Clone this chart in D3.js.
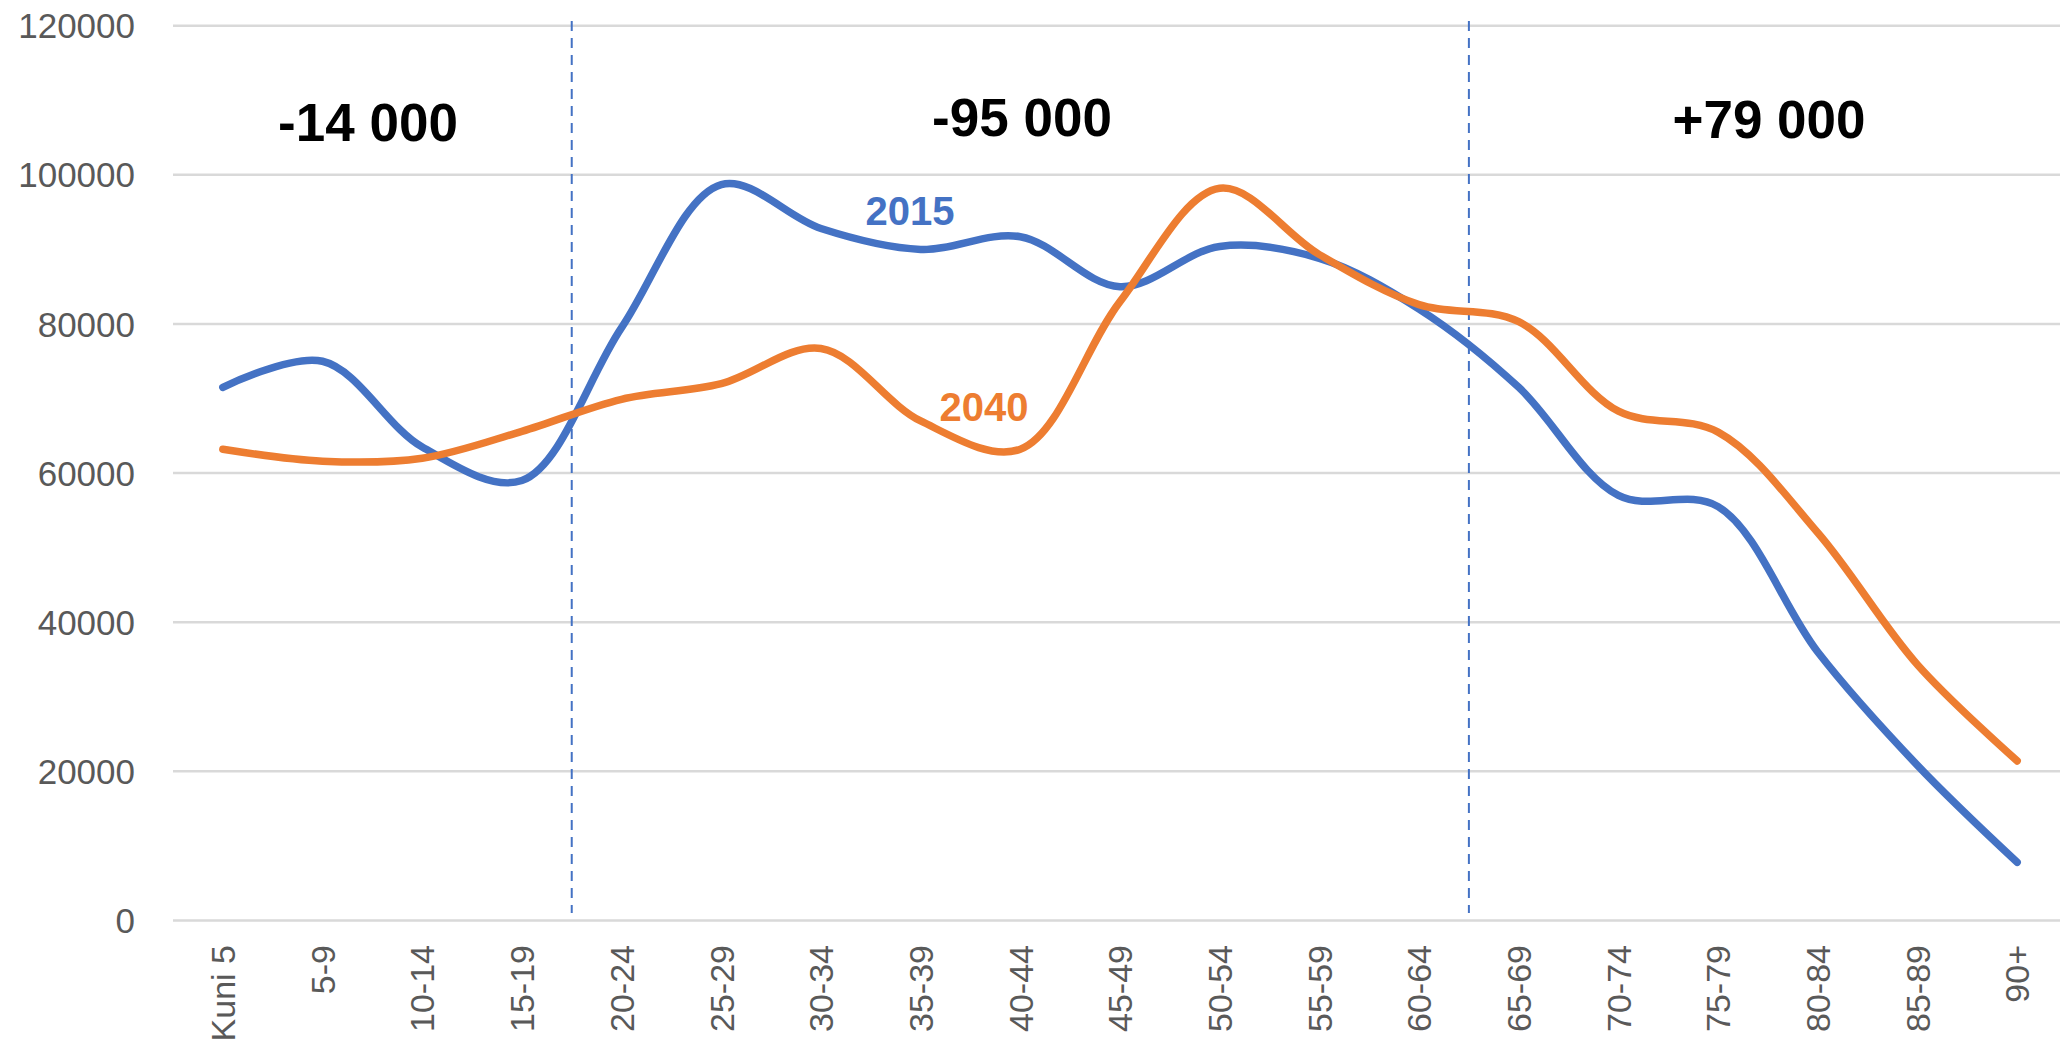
<!DOCTYPE html>
<html>
<head>
<meta charset="utf-8">
<script src="https://cdn.jsdelivr.net/npm/d3@7"></script>
<style>
	body { margin: 0; background: #ffffff; }
	.axis_label { font-family: "Liberation Sans", Arial, sans-serif; fill: #595959; }
	.note { font-family: "Liberation Sans", Arial, sans-serif; font-weight: bold; }
</style>
</head>
<body>
<div id="chart"></div>
<script>
// age groups on the x axis
var categories = ["Kuni 5", "5-9", "10-14", "15-19", "20-24", "25-29", "30-34", "35-39", "40-44",
	"45-49", "50-54", "55-59", "60-64", "65-69", "70-74", "75-79", "80-84", "85-89", "90+"];

// population per age group
var values_2015 = [71500, 75000, 63500, 59000, 79500, 98700, 92800, 90000, 91700,
	85000, 90400, 88800, 82000, 71500, 57000, 55500, 36000, 20800, 7800];
var values_2040 = [63200, 61600, 62000, 65600, 69900, 72000, 76700, 67000, 63200,
	83000, 98200, 89300, 82600, 80300, 68300, 65500, 52000, 34300, 21400];

var y_ticks = [0, 20000, 40000, 60000, 80000, 100000, 120000];

// the three blocks split by the dashed lines
var block_labels = ["-14 000", "-95 000", "+79 000"];
var block_edges = [0, 4, 13, 19]; // category index where each block starts

var series_names = ["2015", "2040"];

var LineChart = {};

LineChart.graphRender = function(div_id) {
	var width = 2060;
	var height = 1045;
	var colors = ["#4472C4", "#ED7D31"];

	var svg = d3.select(div_id).append("svg")
		.attr("width", width)
		.attr("height", height);

	var x = d3.scaleBand()
		.domain(categories)
		.range([173, 2067]);
	var y = d3.scaleLinear()
		.domain([0, 120000])
		.range([920.5, 25.7]);

	function xc(d) { return x(d) + x.bandwidth() / 2; }

	//horizontal grid lines
	svg.append("g").selectAll("line.grid")
		.data(y_ticks)
		.enter()
		.append("line")
		.attr("class", "grid")
		.attr("x1", 173)
		.attr("x2", width)
		.attr("y1", function(d) { return y(d); })
		.attr("y2", function(d) { return y(d); })
		.attr("stroke", "#d9d9d9")
		.attr("stroke-width", 2.5);

	//y axis labels
	svg.append("g").selectAll("text.ylab")
		.data(y_ticks)
		.enter()
		.append("text")
		.attr("class", "axis_label")
		.attr("x", 135)
		.attr("y", function(d) { return y(d); })
		.attr("dy", "0.36em")
		.attr("text-anchor", "end")
		.attr("font-size", "35px")
		.text(function(d) { return d; });

	//x axis labels, turned upright
	svg.append("g").selectAll("text.xlab")
		.data(categories)
		.enter()
		.append("text")
		.attr("class", "axis_label")
		.attr("transform", function(d) {
			return "translate(" + xc(d) + ",945) rotate(-90)";
		})
		.attr("dy", "0.36em")
		.attr("text-anchor", "end")
		.attr("font-size", "34px")
		.text(function(d) { return d; });

	//dashed separators between the blocks
	svg.append("g").selectAll("line.sep")
		.data(block_edges.slice(1, 3))
		.enter()
		.append("line")
		.attr("x1", function(d) { return x(categories[d]); })
		.attr("x2", function(d) { return x(categories[d]); })
		.attr("y1", 21)
		.attr("y2", 913)
		.attr("stroke", "#4472C4")
		.attr("stroke-width", 2)
		.attr("stroke-dasharray", "10,7");

	//block totals
	var block_y = [141, 136, 138];
	svg.append("g").selectAll("text.note")
		.data(block_labels)
		.enter()
		.append("text")
		.attr("class", "note")
		.attr("x", function(d, i) {
			if(i == 0) return 368;
			if(i == 1) return 1022;
			return 1769;
		})
		.attr("y", function(d, i) { return block_y[i]; })
		.attr("text-anchor", "middle")
		.attr("font-size", "53px")
		.attr("fill", "#000000")
		.text(function(d) { return d; });

	//the two smoothed lines
	var line = d3.line()
		.x(function(d, i) { return xc(categories[i]); })
		.y(function(d) { return y(d); })
		.curve(d3.curveCatmullRom.alpha(0.5));

	[values_2015, values_2040].forEach(function(vals, k) {
		svg.append("path")
			.datum(vals)
			.attr("d", line)
			.attr("fill", "none")
			.attr("stroke", colors[k])
			.attr("stroke-width", 7.5)
			.attr("stroke-linecap", "round")
			.attr("stroke-linejoin", "round");
	});

	//series names next to the lines
	var name_pos = [[910, 225], [984, 421]];
	svg.append("g").selectAll("text.series")
		.data(series_names)
		.enter()
		.append("text")
		.attr("class", "note")
		.attr("x", function(d, i) { return name_pos[i][0]; })
		.attr("y", function(d, i) { return name_pos[i][1]; })
		.attr("text-anchor", "middle")
		.attr("font-size", "40px")
		.attr("fill", function(d, i) { return colors[i]; })
		.text(function(d) { return d; });
};

LineChart.graphRender("#chart");
</script>
</body>
</html>
